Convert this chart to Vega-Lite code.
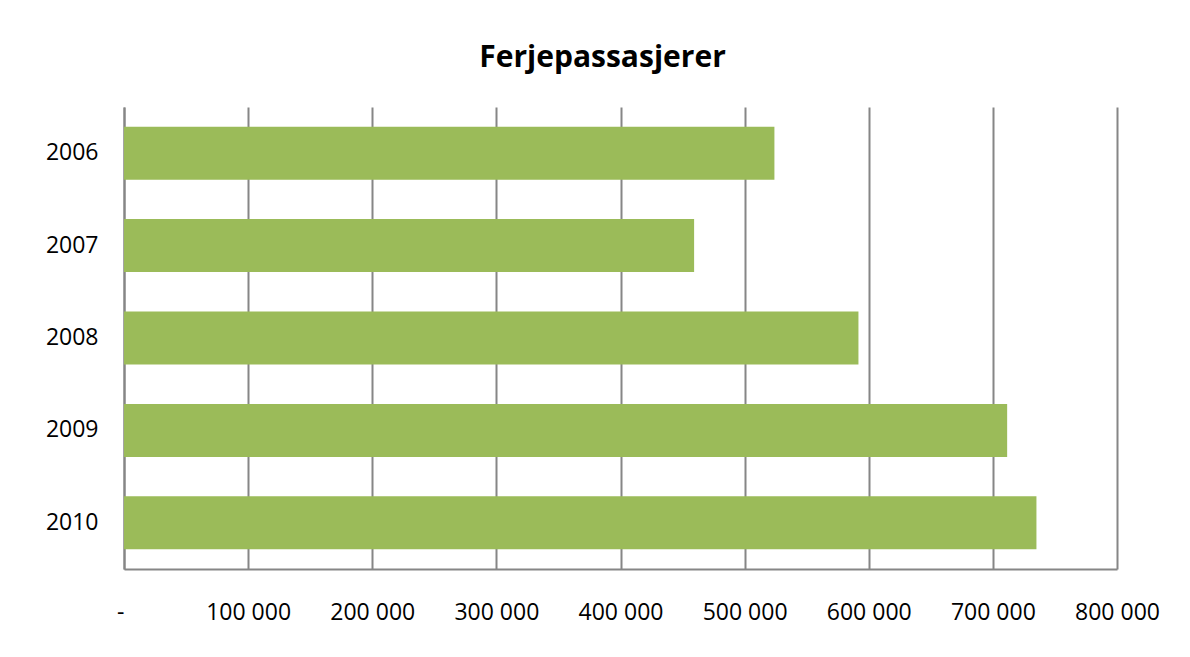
{
  "$schema": "https://vega.github.io/schema/vega-lite/v6.json",
  "width": 993,
  "height": 462,
  "autosize": {"type": "none"},
  "padding": {"left": 124, "top": 107, "right": 73, "bottom": 88},
  "background": "white",
  "title": {
    "text": "Ferjepassasjerer",
    "font": "Open Sans",
    "fontSize": 30,
    "fontWeight": "bold",
    "color": "#000000",
    "anchor": "middle",
    "baseline": "alphabetic",
    "offset": 10,
    "dx": -18
  },
  "data": {
    "values": [
      {"year": "2006", "passengers": 524000},
      {"year": "2007", "passengers": 459300},
      {"year": "2008", "passengers": 591700},
      {"year": "2009", "passengers": 711500},
      {"year": "2010", "passengers": 735100}
    ]
  },
  "mark": {"type": "bar", "color": "#9BBB59"},
  "encoding": {
    "y": {
      "field": "year",
      "type": "nominal",
      "sort": null,
      "scale": {"paddingInner": 0.427, "paddingOuter": 0.213},
      "axis": {
        "title": null,
        "ticks": false,
        "domain": true,
        "domainColor": "#868686",
        "domainWidth": 2,
        "labelFont": "Open Sans",
        "labelFontSize": 23,
        "labelColor": "#000000",
        "labelPadding": 26,
        "grid": false
      }
    },
    "x": {
      "field": "passengers",
      "type": "quantitative",
      "scale": {"domain": [0, 800000], "nice": false},
      "axis": {
        "title": null,
        "values": [0, 100000, 200000, 300000, 400000, 500000, 600000, 700000, 800000],
        "labelExpr": "datum.value === 0 ? '-' : replace(format(datum.value, ','), ',', ' ')",
        "labelAlign": {"condition": {"test": "datum.value === 0", "value": "right"}, "value": "center"},
        "ticks": false,
        "tickSize": 0,
        "domain": true,
        "domainColor": "#868686",
        "domainWidth": 2,
        "grid": true,
        "gridColor": "#868686",
        "gridWidth": 2,
        "labelFont": "Open Sans",
        "labelFontSize": 23,
        "labelColor": "#000000",
        "labelBaseline": "alphabetic",
        "labelPadding": 50,
        "labelFlush": false
      }
    }
  },
  "config": {"view": {"stroke": null}}
}
